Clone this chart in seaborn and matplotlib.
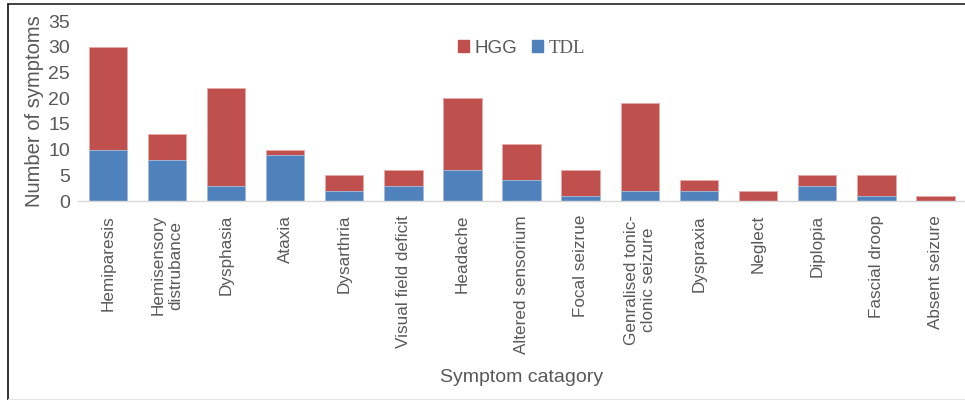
import pandas as pd
import numpy as np
import matplotlib.pyplot as plt
import seaborn as sns
from matplotlib.patches import Patch
from matplotlib.lines import Line2D

categories = ['Hemiparesis', 'Hemisensory\ndistrubance', 'Dysphasia', 'Ataxia', 'Dysarthria',
              'Visual field deficit', 'Headache', 'Altered sensorium', 'Focal seizrue',
              'Genralised tonic-\nclonic seizure', 'Dyspraxia', 'Neglect', 'Diplopia',
              'Fascial droop', 'Absent seizure']
tdl = [10, 8, 3, 9, 2, 3, 6, 4, 1, 2, 2, 0, 3, 1, 0]
hgg = [20, 5, 19, 1, 3, 3, 14, 7, 5, 17, 2, 2, 2, 4, 1]

red = '#C0504D'
blue = '#4F81BD'
grey = '#595959'

sns.set_style('white')
plt.rcParams['font.family'] = ['Liberation Sans', 'DejaVu Sans']

df = pd.DataFrame({'cat': categories, 'TDL': tdl, 'HGG': hgg})
df['total'] = df['TDL'] + df['HGG']

fig = plt.figure(figsize=(9.65, 4.0), dpi=100)
ax = fig.add_axes([0.081, 0.4975, 0.919, 0.45])

# stacked: total (red) behind, TDL (blue) in front
sns.barplot(data=df, x='cat', y='total', color=red, width=0.65, saturation=1,
            edgecolor='#e9a9a7', linewidth=0.6, ax=ax)
sns.barplot(data=df, x='cat', y='TDL', color=blue, width=0.65, saturation=1,
            edgecolor='#a9c0e0', linewidth=0.6, ax=ax)

ax.set_xlim(-0.5, len(categories) - 0.5)
ax.set_ylim(0, 35)
ax.set_yticks(np.arange(0, 36, 5))
ax.tick_params(axis='y', labelsize=14, colors=grey, length=0, pad=6)
ax.tick_params(axis='x', labelsize=12.3, colors=grey, length=0, pad=10)
for lbl in ax.get_xticklabels():
    lbl.set_rotation(90)
    lbl.set_ha('center')
    lbl.set_multialignment('center')

for s in ['top', 'right', 'left']:
    ax.spines[s].set_visible(False)
ax.spines['bottom'].set_color('#d9d9d9')
ax.spines['bottom'].set_linewidth(1)

ax.set_ylabel('Number of symptoms', fontsize=14.5, color=grey, labelpad=3)
ax.set_xlabel('')
fig.text(0.54, 0.035, 'Symptom catagory', fontsize=14, color=grey, ha='center', va='bottom')

handles = [Patch(color=red), Patch(color=blue)]
leg = ax.legend(handles, ['HGG', 'TDL'], loc='upper center', bbox_to_anchor=(0.5, 0.99), ncol=2,
                frameon=False, fontsize=13.5, handlelength=0.6, handleheight=0.6,
                handletextpad=0.3, columnspacing=0.8)
for t in leg.get_texts():
    t.set_color(grey)
leg.get_texts()[1].set_family('Liberation Serif')

# outer frame: dark top and left, faint bottom
fig.lines.append(Line2D([0.008, 1.0], [0.99, 0.99], transform=fig.transFigure,
                        color='#333333', linewidth=1.3))
fig.lines.append(Line2D([0.0085, 0.0085], [0.0, 0.99], transform=fig.transFigure,
                        color='#222222', linewidth=1.3))
fig.lines.append(Line2D([0.008, 1.0], [0.002, 0.002], transform=fig.transFigure,
                        color='#e6e6e6', linewidth=1))

plt.savefig('out.png', dpi=100)
